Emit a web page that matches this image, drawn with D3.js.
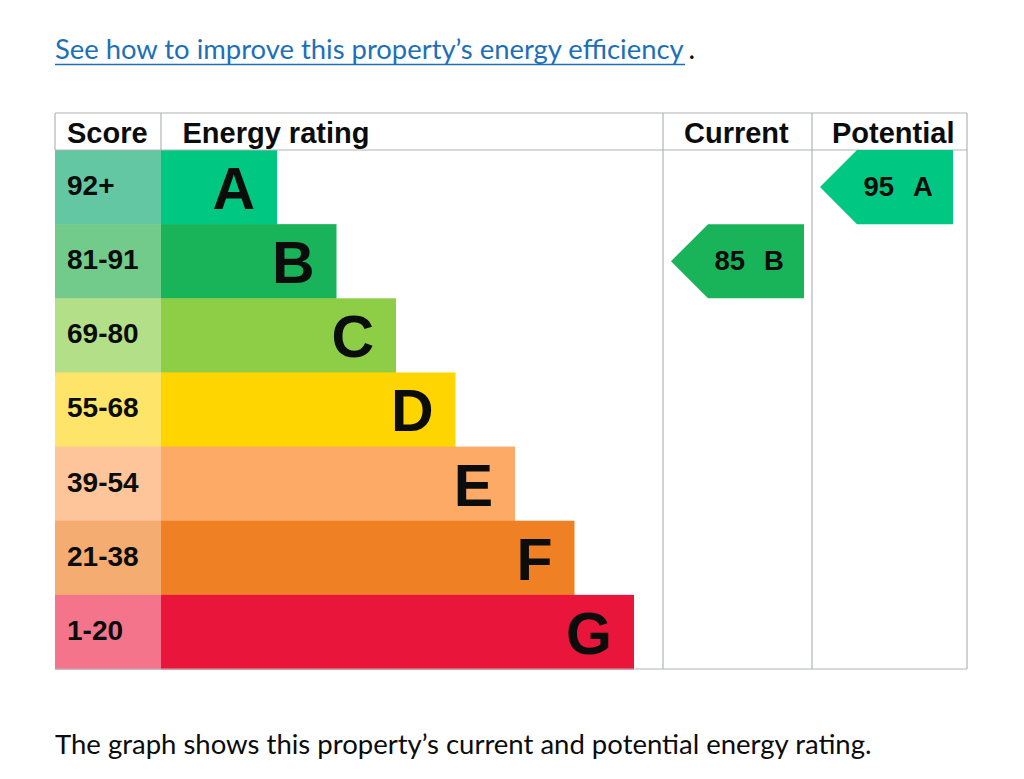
<!DOCTYPE html>
<html>
<head>
<meta charset="utf-8">
<script src="https://cdn.jsdelivr.net/npm/d3@7"></script>
<style>
  html, body { margin: 0; padding: 0; background: #fff; }
  svg { display: block; }
</style>
</head>
<body>
<svg id="chart" width="1024" height="779"></svg>
<script>
// ---- data ----
const bands = ["A", "B", "C", "D", "E", "F", "G"];
const scoreRanges = ["92+", "81-91", "69-80", "55-68", "39-54", "21-38", "1-20"];
const bandColors = ["#00c781", "#19b459", "#8dce46", "#ffd500", "#fcaa65", "#ef8023", "#e9153b"];
const scoreColors = ["#64c7a4", "#72ca8b", "#b4df89", "#ffe46a", "#fec59a", "#f4ac71", "#f3748b"];
const headers = ["Score", "Energy rating", "Current", "Potential"];
const ratings = [
  { column: "Current", score: 85, band: "B" },
  { column: "Potential", score: 95, band: "A" }
];
const linkText = "See how to improve this property\u2019s energy efficiency";
const captionText = "The graph shows this property\u2019s current and potential energy rating.";

// ---- layout ----
const svg = d3.select("#chart");
const frame = { left: 55, right: 967, top: 113, header: 150, bottom: 669 };
const colEdges = { score: 55, rating: 161, current: 663, potential: 812, end: 967 };
const border = "#b1b4b6";
const ink = "#0b0c0c";
const boldFont = "'Liberation Sans', Arial, Helvetica, sans-serif";
const bodyFont = "Lato, 'Noto Sans', sans-serif";

const y = d3.scaleBand().domain(bands).range([frame.header, frame.bottom]).padding(0);
const xBar = d3.scaleLinear().domain([0, bands.length - 1]).range([277, 634]);

// fit a text's font size so that its natural width matches a target width
function fitText(sel, target, base) {
  sel.attr("font-size", base);
  const w = sel.node().getComputedTextLength();
  if (w > 0) sel.attr("font-size", base * target / w);
}

// link text
const link = svg.append("text")
  .attr("x", 55).attr("y", 59)
  .attr("font-family", bodyFont)
  .attr("fill", "#1d70b8")
  .text(linkText);
fitText(link, 629, 29);
svg.append("line")
  .attr("x1", 55).attr("x2", 685).attr("y1", 64.5).attr("y2", 64.5)
  .attr("stroke", "#1d70b8").attr("stroke-width", 1.3);
svg.append("text")
  .attr("x", 688.5).attr("y", 59)
  .attr("font-family", bodyFont).attr("font-size", 28)
  .attr("fill", ink).text(".");

// score cells
const rows = svg.append("g");
rows.selectAll("rect.score").data(bands).join("rect")
  .attr("class", "score")
  .attr("x", colEdges.score).attr("y", d => y(d))
  .attr("width", colEdges.rating - colEdges.score).attr("height", y.bandwidth() + 0.5)
  .attr("fill", (d, i) => scoreColors[i]);

// band bars
rows.selectAll("rect.band").data(bands).join("rect")
  .attr("class", "band")
  .attr("x", colEdges.rating).attr("y", d => y(d))
  .attr("width", (d, i) => xBar(i) - colEdges.rating).attr("height", y.bandwidth() + 0.5)
  .attr("fill", (d, i) => bandColors[i]);

// score labels
rows.selectAll("text.range").data(bands).join("text")
  .attr("class", "range")
  .attr("x", 67).attr("y", d => y(d) + 45)
  .attr("font-family", boldFont).attr("font-weight", "bold").attr("font-size", 28)
  .attr("fill", ink)
  .text((d, i) => scoreRanges[i]);

// band letters
rows.selectAll("text.letter").data(bands).join("text")
  .attr("class", "letter")
  .attr("x", (d, i) => xBar(i) - 22).attr("y", d => y(d) + 59)
  .attr("text-anchor", "end")
  .attr("font-family", boldFont).attr("font-weight", "bold").attr("font-size", 59)
  .attr("fill", ink)
  .text(d => d);

// borders
const g = svg.append("g").attr("stroke", border).attr("stroke-width", 1.2).attr("fill", "none");
g.append("line").attr("x1", frame.left).attr("x2", frame.right).attr("y1", frame.top).attr("y2", frame.top);
g.append("line").attr("x1", frame.left).attr("x2", frame.right).attr("y1", frame.header).attr("y2", frame.header);
g.append("line").attr("x1", frame.left).attr("x2", frame.right).attr("y1", frame.bottom).attr("y2", frame.bottom);
g.append("line").attr("x1", frame.left).attr("x2", frame.left).attr("y1", frame.top).attr("y2", frame.header);
g.append("line").attr("x1", colEdges.rating).attr("x2", colEdges.rating).attr("y1", frame.top).attr("y2", frame.header);
g.append("line").attr("x1", colEdges.current).attr("x2", colEdges.current).attr("y1", frame.top).attr("y2", frame.bottom);
g.append("line").attr("x1", colEdges.potential).attr("x2", colEdges.potential).attr("y1", frame.top).attr("y2", frame.bottom);
g.append("line").attr("x1", frame.right).attr("x2", frame.right).attr("y1", frame.top).attr("y2", frame.bottom);

// headers
const headerX = [67, 182.5, 684, 832];
svg.selectAll("text.header").data(headers).join("text")
  .attr("class", "header")
  .attr("x", (d, i) => headerX[i]).attr("y", 142.5)
  .attr("font-family", boldFont).attr("font-weight", "bold").attr("font-size", 29)
  .attr("fill", ink)
  .text(d => d);

// rating arrows
const colStart = { Current: colEdges.current + 8, Potential: colEdges.potential + 8 };
const arrowW = 133, pointW = 37;
const arrows = svg.selectAll("g.arrow").data(ratings).join("g").attr("class", "arrow");
arrows.append("path")
  .attr("d", d => {
    const x0 = colStart[d.column], t = y(d.band), h = y.bandwidth();
    return `M${x0},${t + h / 2} L${x0 + pointW},${t} L${x0 + arrowW},${t} L${x0 + arrowW},${t + h} L${x0 + pointW},${t + h} Z`;
  })
  .attr("fill", d => bandColors[bands.indexOf(d.band)]);
arrows.append("text")
  .attr("x", d => colStart[d.column] + 43.5).attr("y", d => y(d.band) + 46)
  .attr("font-family", boldFont).attr("font-weight", "bold").attr("font-size", 27.5)
  .attr("fill", ink).text(d => d.score);
arrows.append("text")
  .attr("x", d => colStart[d.column] + 93).attr("y", d => y(d.band) + 46)
  .attr("font-family", boldFont).attr("font-weight", "bold").attr("font-size", 27.5)
  .attr("fill", ink).text(d => d.band);

// caption
const caption = svg.append("text")
  .attr("x", 55).attr("y", 754)
  .attr("font-family", bodyFont)
  .attr("fill", ink)
  .text(captionText);
fitText(caption, 817, 29);
</script>
</body>
</html>
